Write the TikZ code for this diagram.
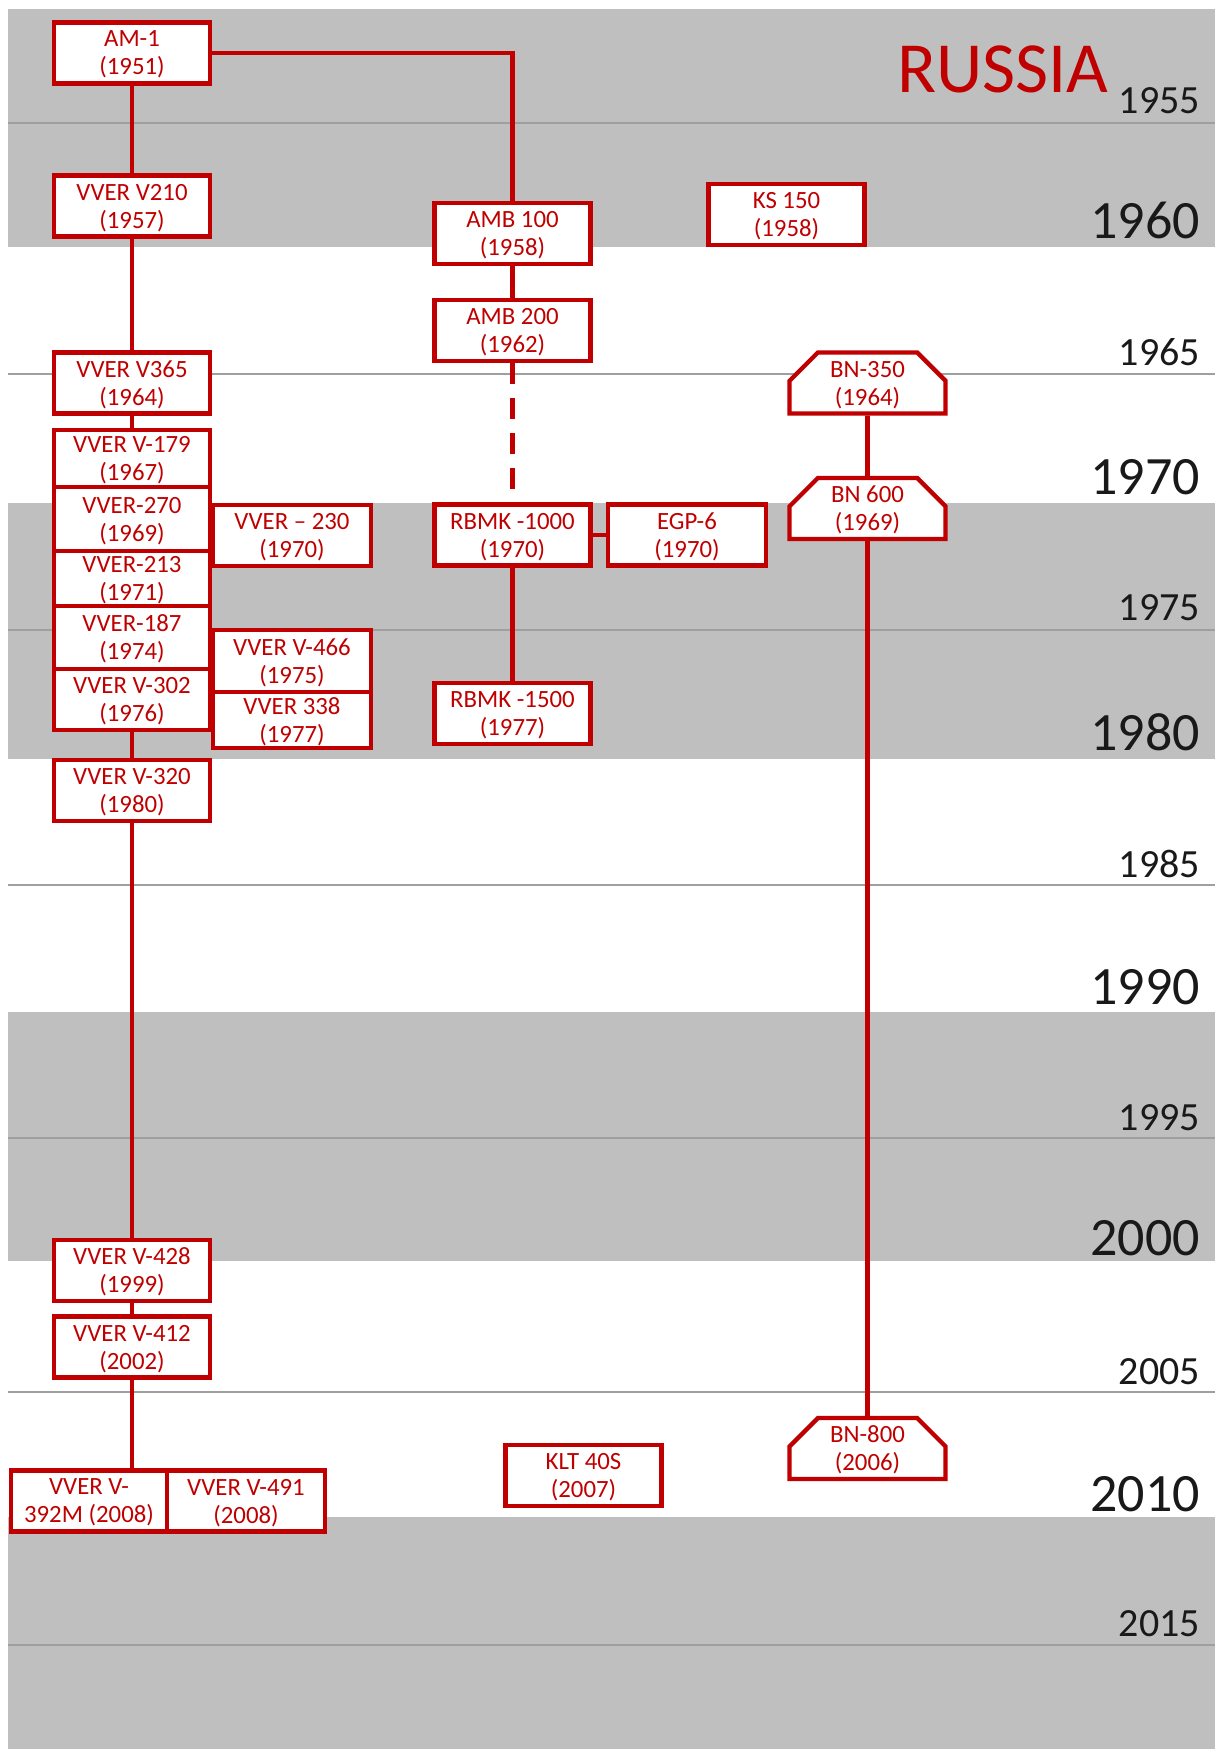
\documentclass[tikz,border=0pt]{standalone}
\usepackage{fontspec}
\setmainfont{Carlito}
\usepackage{xcolor}
\usepackage{tikz}
\usetikzlibrary{arrows.meta,calc}
\usetikzlibrary{positioning,shapes,shapes.misc}

\definecolor{rred}{RGB}{192,0,0}
\definecolor{bandgray}{RGB}{191,191,191}

\begin{document}
\begin{tikzpicture}[
    x=0.5pt, y=-0.5pt,
    reactor/.style={draw=rred, line width=2.2pt, fill=white, text=rred, align=center,
        font=\fontsize{12.4}{14}\selectfont, text depth=0pt,
        minimum width=78pt, minimum height=30.5pt, inner sep=0pt},
    fastbox/.style={reactor, chamfered rectangle, chamfered rectangle corners={north west,north east},
        chamfered rectangle xsep=11pt},
    link/.style={rred, line width=2.3pt},
    yline/.style={gray!75, line width=0.6pt},
    yfive/.style={anchor=base east, text=black!90, font=\fontsize{20}{23}\selectfont},
    yten/.style={anchor=base east, text=black!90, font=\fontsize{27}{31}\selectfont}
]

% 그림 크기 고정
\path[use as bounding box] (0,0) rectangle (1215,1749);

% 회색 띠 (10년 단위)
\fill[bandgray] (8,9) rectangle (1215,247);
\fill[bandgray] (8,503) rectangle (1215,759);
\fill[bandgray] (8,1012) rectangle (1215,1261);
\fill[bandgray] (8,1517) rectangle (1215,1749);

% 5년 기준선
\draw[yline] (8,123) -- (1215,123);
\draw[yline] (8,374) -- (1215,374);
\draw[yline] (8,630) -- (1215,630);
\draw[yline] (8,885) -- (1215,885);
\draw[yline] (8,1138) -- (1215,1138);
\draw[yline] (8,1392) -- (1215,1392);
\draw[yline] (8,1645) -- (1215,1645);

% 연도 라벨
\node[yfive] (y1955) at (1207,114) {1955};
\node[yten]  (y1960) at (1207,239) {1960};
\node[yfive] (y1965) at (1207,365) {1965};
\node[yten]  (y1970) at (1207,494) {1970};
\node[yfive] (y1975) at (1207,620) {1975};
\node[yten]  (y1980) at (1207,750) {1980};
\node[yfive] (y1985) at (1207,877) {1985};
\node[yten]  (y1990) at (1207,1004) {1990};
\node[yfive] (y1995) at (1207,1130) {1995};
\node[yten]  (y2000) at (1207,1255) {2000};
\node[yfive] (y2005) at (1207,1384) {2005};
\node[yten]  (y2010) at (1207,1511) {2010};
\node[yfive] (y2015) at (1207,1636) {2015};

% 제목
\node[anchor=base west, text=rred, font=\fontsize{36}{40}\selectfont] (title) at (890,93) {RUSSIA};

% VVER 계열 (왼쪽 줄)
\node[reactor] (am1)  at (132,53)  {AM-1\\(1951)};
\node[reactor] (v210) at (132,206) {VVER V210\\(1957)};
\node[reactor] (v365) at (132,383) {VVER V365\\(1964)};
\node[reactor, minimum height=28.5pt] (v179) at (132,458.5) {VVER V-179\\(1967)};
\node[reactor, minimum height=32pt]   (v270) at (132,519)   {VVER-270\\(1969)};
\node[reactor, minimum height=27.5pt] (v213) at (132,578.5) {VVER-213\\(1971)};
\node[reactor, minimum height=31.5pt] (v187) at (132,637.5) {VVER-187\\(1974)};
\node[reactor, minimum height=30.5pt] (v302) at (132,699.5) {VVER V-302\\(1976)};
\node[reactor] (v320) at (132,790.5)  {VVER V-320\\(1980)};
\node[reactor] (v428) at (132,1270.5) {VVER V-428\\(1999)};
\node[reactor] (v412) at (132,1347)   {VVER V-412\\(2002)};
\node[reactor] (v392m) at (89,1501)   {VVER V-\\392M (2008)};
\node[reactor, minimum width=79pt] (v491) at (246,1501) {VVER V-491\\(2008)};

% 옆에 붙은 VVER
\node[reactor, minimum width=79pt] (v230) at (292,535.5) {VVER -- 230\\(1970)};
\node[reactor, minimum width=79pt, minimum height=31pt] (v466) at (292,661) {VVER V-466\\(1975)};
\node[reactor, minimum width=79pt, minimum height=28pt] (v338) at (292,720) {VVER 338\\(1977)};

% AMB / RBMK 계열
\node[reactor] (amb100)   at (512.5,233.5) {AMB 100\\(1958)};
\node[reactor] (amb200)   at (512.5,330.5) {AMB 200\\(1962)};
\node[reactor] (rbmk1000) at (512.5,535)   {RBMK -1000\\(1970)};
\node[reactor] (rbmk1500) at (512.5,713.5) {RBMK -1500\\(1977)};
\node[reactor, minimum width=79pt] (egp6) at (687,535) {EGP-6\\(1970)};
\node[reactor] (ks150)    at (786.5,214.5) {KS 150\\(1958)};
\node[reactor] (klt40s)   at (583.5,1475.5) {KLT 40S\\(2007)};

% 고속로 (BN)
\node[fastbox] (bn350) at (867.5,383)    {BN-350\\(1964)};
\node[fastbox] (bn600) at (867.5,508.5)  {BN 600\\(1969)};
\node[fastbox] (bn800) at (867.5,1448.5) {BN-800\\(2006)};

% 연결선
\draw[link] (am1) -- (v210);
\draw[link] (am1.east) -| (amb100.north);
\draw[link] (v210) -- (v365);
\draw[link] (v365) -- (v179);
\draw[link] (v302) -- (v320);
\draw[link] (v320) -- (v428);
\draw[link] (v428) -- (v412);
\draw[link] (v412.south) -- (v412.south |- v392m.north);
\draw[link] (amb100) -- (amb200);
\draw[link, dash pattern=on 10.5pt off 7pt] (amb200) -- (rbmk1000);
\draw[link] (rbmk1000) -- (rbmk1500);
\draw[link] (rbmk1000) -- (egp6);
\draw[link] (bn350) -- (bn600);
\draw[link] (bn600) -- (bn800);

\end{tikzpicture}
\end{document}
